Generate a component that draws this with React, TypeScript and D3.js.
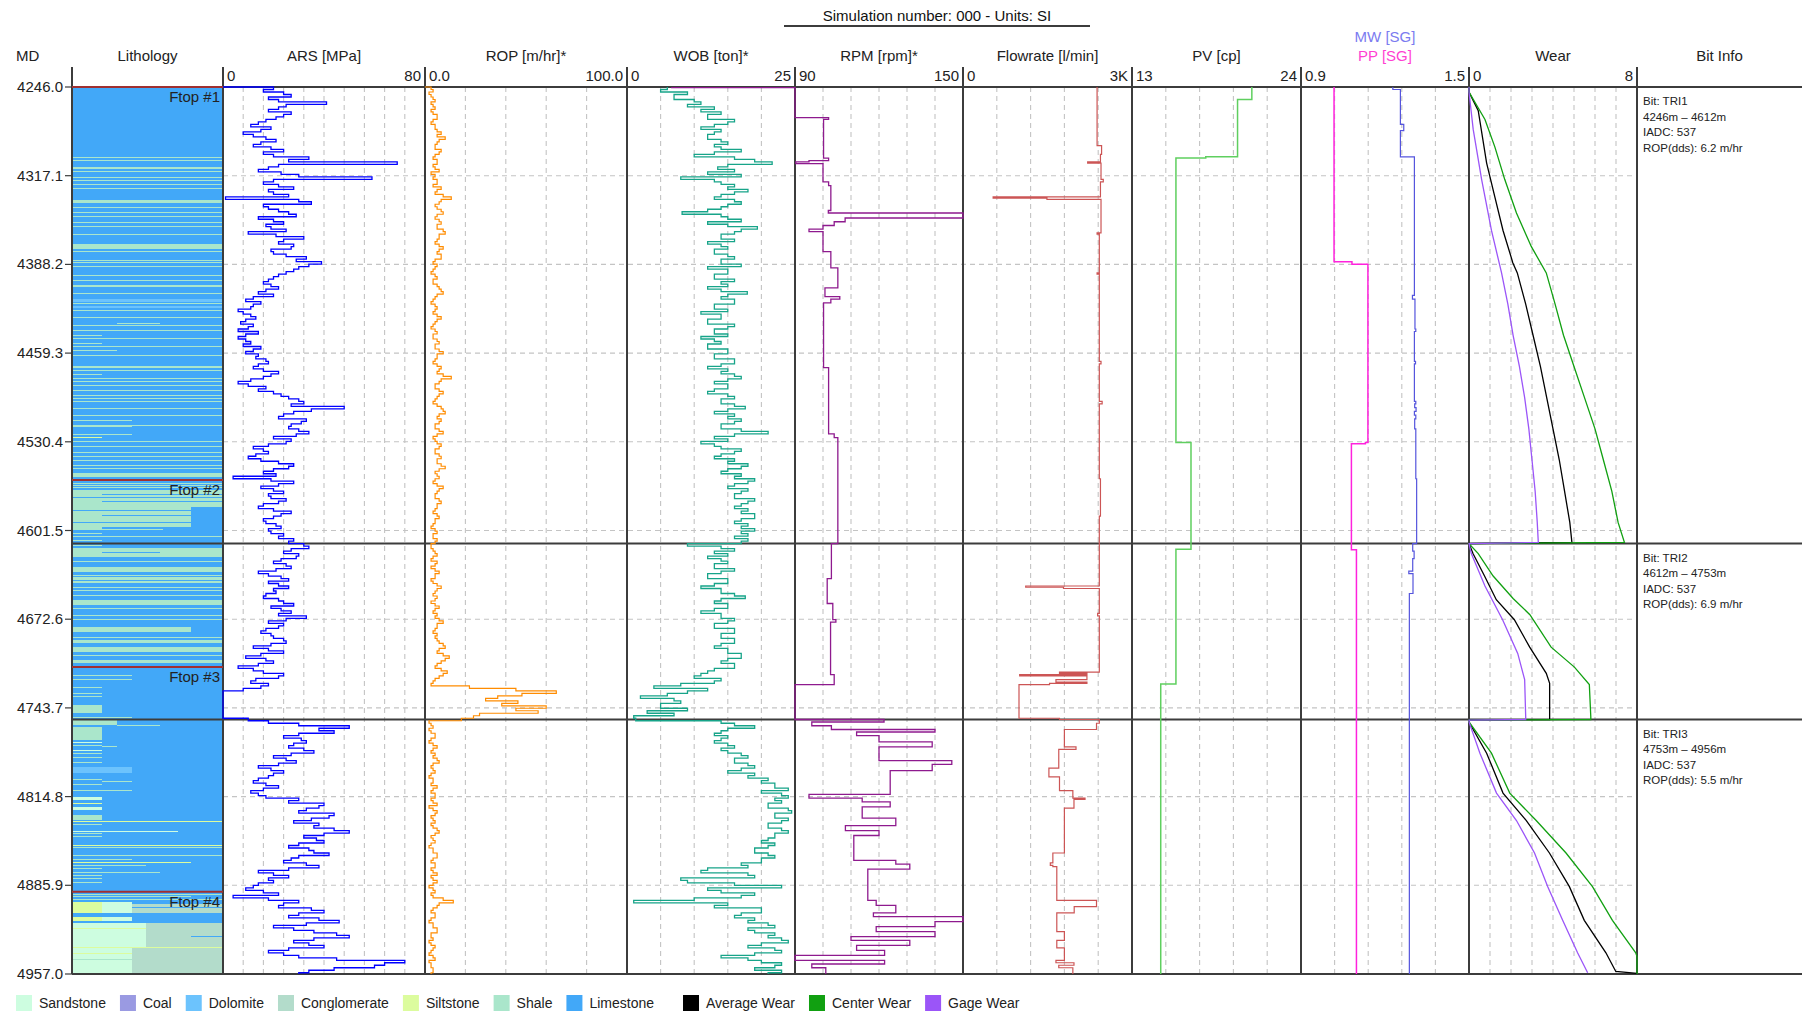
import React, { useEffect } from "react";
import * as d3 from "d3";

// ---------- depth axis ----------
const depthRange: [number, number] = [4246, 4957];
const depthTicks = [4246.0, 4317.1, 4388.2, 4459.3, 4530.4, 4601.5, 4672.6, 4743.7, 4814.8, 4885.9, 4957.0];

// ---------- track headers ----------
const trackTitles = ["Lithology", "ARS [MPa]", "ROP [m/hr]*", "WOB [ton]*", "RPM [rpm]*", "Flowrate [l/min]", "PV [cp]", "", "Wear", "Bit Info"];
const scaleMinLabels = ["", "0", "0.0", "0", "90", "0", "13", "0.9", "0", ""];
const scaleMaxLabels = ["", "80", "100.0", "25", "150", "3K", "24", "1.5", "8", ""];
const trackDomains: [number, number][] = [[0, 1], [0, 80], [0, 100], [0, 25], [90, 150], [0, 3000], [13, 24], [0.9, 1.5], [0, 8]];

// ---------- sampled logs: one value every 2 m starting at 4246 m (rows of 40 m) ----------
const sampleTop = 4246;
const sampleStep = 2;

const arsValues = [
  20, 16, 24, 27, 18, 22, 41, 25, 22, 18, 27, 24, 21, 17, 14, 11, 19, 15, 8, 12,
  17, 21, 15, 12, 19, 24, 16, 20, 34, 26, 69, 22, 18, 14, 23, 30, 59, 20, 16, 22,
  28, 18, 20, 26, 1, 30, 35, 16, 18, 22, 26, 29, 14, 20, 24, 17, 19, 25, 10, 21,
  32, 24, 22, 28, 27, 19, 20, 25, 33, 29, 39, 34, 30, 28, 25, 22, 20, 18, 16, 19,
  22, 17, 14, 20, 12, 9, 15, 12, 11, 6, 8, 11, 13, 9, 7, 12, 10, 6, 14, 9,
  6, 9, 11, 8, 15, 12, 9, 14, 13, 17, 18, 14, 12, 16, 22, 19, 16, 11, 6, 10,
  17, 14, 20, 23, 26, 30, 32, 27, 48, 35, 28, 24, 22, 33, 31, 27, 26, 30, 34, 29,
  20, 27, 25, 18, 12, 16, 18, 13, 10, 15, 22, 28, 26, 20, 16, 21, 4, 19, 28, 22,
  15, 20, 24, 18, 19, 25, 22, 16, 14, 20, 27, 23, 20, 16, 17, 21, 23, 18, 19, 24,
  22, 28, 26, 32, 34, 27, 24, 30, 29, 23, 20, 25, 27, 21, 14, 18, 23, 26, 18, 22,
  26, 20, 21, 17, 16, 22, 24, 28, 19, 23, 27, 22, 33, 25, 18, 24, 22, 17, 15, 19,
  20, 24, 25, 19, 12, 18, 24, 15, 9, 17, 20, 14, 6, 12, 16, 24, 22, 13, 11, 18,
  15, 8, 0, 0, 0, 0, 0, 0, 0, 0, 0, 0, 0, 10, 18, 30, 50, 38, 44, 30,
  24, 31, 33, 28, 26, 32, 36, 27, 20, 25, 29, 22, 14, 19, 24, 20, 18, 14, 12, 17,
  22, 16, 11, 14, 17, 30, 26, 40, 38, 33, 30, 44, 42, 35, 28, 38, 36, 44, 50, 40,
  32, 37, 40, 30, 26, 34, 36, 42, 30, 27, 24, 33, 38, 26, 14, 20, 26, 18, 20, 14,
  12, 9, 16, 22, 4, 18, 30, 24, 22, 35, 40, 30, 26, 38, 46, 33, 20, 28, 36, 45,
  50, 36, 28, 34, 40, 26, 18, 24, 30, 45, 72, 64, 60, 44, 34, 30,
];

const ropValues = [
  3, 4, 2, 3, 4, 5, 3, 4, 5, 3, 4, 6, 6, 4, 3, 5, 5, 6, 8, 6,
  10, 7, 6, 5, 5, 8, 7, 5, 4, 6, 6, 4, 5, 7, 3, 5, 4, 6, 6, 4,
  8, 6, 5, 9, 13, 8, 7, 5, 6, 8, 9, 6, 5, 7, 8, 6, 6, 9, 10, 7,
  7, 6, 5, 7, 9, 7, 6, 8, 8, 5, 4, 6, 5, 4, 3, 5, 6, 4, 4, 6,
  7, 8, 9, 6, 5, 4, 3, 5, 6, 5, 4, 6, 8, 6, 5, 4, 3, 5, 6, 4,
  4, 6, 7, 5, 5, 7, 9, 6, 6, 5, 4, 6, 8, 7, 6, 9, 13, 8, 7, 5,
  5, 7, 9, 7, 6, 5, 4, 6, 8, 9, 10, 7, 6, 8, 7, 5, 5, 7, 9, 6,
  4, 5, 6, 8, 7, 5, 5, 7, 8, 6, 6, 8, 10, 7, 5, 6, 7, 5, 4, 6,
  9, 7, 6, 5, 5, 7, 8, 6, 6, 5, 4, 6, 7, 5, 5, 4, 3, 5, 6, 4,
  4, 6, 5, 3, 3, 4, 5, 6, 4, 3, 6, 5, 3, 5, 7, 5, 5, 3, 4, 6,
  8, 6, 5, 4, 6, 5, 3, 5, 7, 5, 4, 6, 5, 7, 9, 6, 6, 5, 4, 6,
  5, 6, 7, 9, 10, 7, 6, 9, 12, 10, 8, 6, 5, 8, 11, 9, 7, 5, 4, 3,
  22, 45, 65, 48, 36, 30, 46, 38, 60, 45, 56, 27, 24, 18, 2, 3, 4, 2, 3, 5,
  5, 3, 2, 4, 6, 4, 3, 5, 4, 6, 7, 4, 3, 4, 5, 3, 2, 4, 4, 3,
  6, 4, 3, 5, 5, 3, 4, 6, 2, 4, 6, 5, 3, 4, 5, 3, 4, 6, 7, 5,
  3, 4, 5, 3, 2, 4, 4, 6, 6, 4, 3, 5, 5, 3, 4, 6, 3, 4, 6, 4,
  2, 4, 5, 3, 4, 9, 14, 7, 6, 4, 3, 5, 5, 3, 2, 4, 4, 6, 6, 3,
  3, 4, 2, 3, 5, 4, 3, 2, 4, 5, 2, 3, 3, 4, 4, 3,
];

const wobValues = [
  6, 5, 9, 7, 7, 10, 11, 9, 13, 11, 14, 12, 12, 16, 15, 13, 11, 14, 13, 12,
  12, 14, 15, 13, 14, 17, 13, 10, 16, 19, 21.6, 15, 13.5, 16, 12, 17, 8, 13, 14, 16,
  15, 18, 16, 14, 13, 16, 17, 15, 14, 12, 8.2, 14, 15, 17, 12, 15, 19.4, 17, 16, 14,
  14, 16, 12, 14, 15, 13, 13, 15, 16, 14, 14, 17, 12, 15, 15, 13, 13, 16, 14, 15,
  12, 14, 17.9, 15, 14, 16, 16, 13, 13, 15, 11, 14, 14, 12, 12, 16, 15, 13, 13, 15,
  11, 13, 14, 12, 12, 15, 15, 13, 13, 16, 16, 14, 12, 15, 14, 16, 17, 15, 13, 15,
  15, 13, 12, 15, 16, 14, 14, 16, 17.6, 15, 13, 16, 15, 17, 16, 14, 14, 17, 21, 16,
  13, 15, 11, 13, 14, 17, 16, 14, 13, 16, 15, 18, 17, 15, 14, 17, 16, 19, 18, 16,
  15, 18, 17, 16, 16, 19, 18, 17, 16, 18, 17, 19, 19, 17, 16, 18, 17, 19, 17, 18,
  16, 18, 17, 9, 14, 16, 13, 15, 12, 14, 15, 13, 13, 16, 14, 12, 12, 15, 15, 13,
  11, 14, 14, 16, 17.6, 14, 13, 15, 15, 13, 11, 14, 14, 16, 15, 13, 13, 16, 16, 14,
  14, 16, 16, 14, 13, 15, 15, 17, 17, 15, 14, 16, 16, 13, 12, 11, 10, 14, 13, 8,
  4, 12, 9, 6, 2, 7, 8, 5, 5, 9, 3, 7, 1, 1.3, 14, 16, 19, 15, 14, 13,
  15, 14, 13, 15, 16, 14, 15, 17, 18, 16, 16, 18, 19, 17, 15, 19, 18, 21, 20, 22,
  22, 24, 20, 23, 24, 22, 23, 21, 21, 24, 24.5, 22, 22, 24, 23, 21, 21, 23, 24, 22,
  22, 21, 20, 22, 21, 19, 19, 21, 22, 20, 20, 17, 18, 12, 11, 18, 19, 8, 9, 16,
  23, 12, 14, 19, 17, 10, 1, 15, 13, 20, 20, 17, 16, 19, 18, 21, 22, 18, 19, 22,
  21, 23, 24, 20, 18, 22, 23, 19, 14, 18, 20, 23, 22, 19, 23, 21,
];

// ---------- step logs: value holds from its depth down to the next one ----------
const rpmDepth = [
  4246, 4246.5, 4270.5, 4272, 4303, 4305, 4306, 4307.5, 4322, 4325, 4345, 4347, 4351, 4354, 4357, 4360, 4362,
  4378, 4391, 4407, 4414, 4416, 4419, 4471, 4524, 4527, 4612, 4640, 4660, 4673, 4675, 4717, 4725,
  4753, 4755, 4758, 4761, 4763, 4766, 4771, 4775, 4786, 4789, 4794, 4813, 4816, 4819, 4823, 4832,
  4838, 4842, 4846, 4866, 4869, 4873, 4898, 4902, 4908, 4911, 4915, 4919, 4923, 4927, 4930, 4934,
  4938, 4942, 4946, 4949, 4952,
];
const rpmValue = [
  46, 90, 102, 100.2, 102, 95, 90.3, 100, 102, 102.8, 101.9, 150, 107.9, 104, 100, 95, 100,
  102.8, 105.3, 100.7, 106, 102.8, 100.2, 102, 104, 105.3, 103, 101.5, 103.5, 104.6, 102.7, 104, 90,
  121.8, 96, 103, 140, 112, 120, 139, 120, 146, 139, 124, 95, 114, 124, 114, 126,
  108, 120, 111, 126, 131, 116, 119, 126, 118, 150, 140, 119, 140, 110, 131, 112,
  122, 90, 122, 96, 101,
];

const flowDepth = [
  4246, 4293, 4300, 4306, 4307, 4320, 4322, 4334, 4335, 4336, 4363, 4364, 4395, 4396, 4466, 4468, 4498, 4500, 4560, 4590,
  4646, 4647, 4648, 4668, 4670, 4715, 4716, 4717, 4718, 4721, 4723, 4724, 4725, 4752,
  4753, 4756, 4761, 4775, 4777, 4792, 4799, 4810, 4816, 4817, 4824, 4860, 4868, 4870, 4871, 4898,
  4903, 4908, 4923, 4930, 4936, 4946, 4948, 4950, 4952,
];
const flowValue = [
  2380, 2460, 2440, 2213, 2450, 2490, 2440, 535, 1490, 2450, 2380, 2420, 2380, 2420, 2450, 2420, 2470, 2420, 2440, 2420,
  1113, 1784, 2420, 2390, 2420, 1713, 2200, 1006, 2200, 1650, 2200, 1536, 994, 1713,
  2420, 2370, 1800, 2006, 1700, 1525, 1713, 1950, 2166, 1970, 1800, 1595, 1550, 1595, 1665, 2370,
  1974, 1665, 1800, 1665, 1800, 1650, 1970, 1700, 1950,
];

const pvDepth = [4246, 4256, 4302, 4303, 4531, 4616.6, 4724.6];
const pvValue = [20.8, 19.87, 17.8, 15.86, 16.84, 15.86, 14.87];

const mwDepth = [
  4246, 4248, 4276, 4281, 4302, 4413, 4416, 4440, 4442, 4466, 4468, 4498, 4500, 4503, 4506, 4509, 4512,
  4520, 4560, 4612, 4618, 4624, 4634, 4636, 4652,
];
const mwValue = [
  1.228, 1.255, 1.267, 1.255, 1.305, 1.298, 1.307, 1.31, 1.305, 1.309, 1.305, 1.31, 1.306, 1.311, 1.305, 1.31, 1.306,
  1.31, 1.313, 1.299, 1.304, 1.299, 1.285, 1.3, 1.287,
];

const ppDepth = [4246, 4386, 4388, 4531, 4532, 4617];
const ppValue = [1.018, 1.082, 1.139, 1.13, 1.08, 1.098];

// ---------- bit wear (depth, wear) ----------
const centerWear: [number, number][] = [
  [4246, 0], [4250, 0], [4272, 0.76], [4294, 1.23], [4320, 1.7], [4347, 2.26], [4374, 2.97], [4395, 3.68],
  [4420, 4.1], [4445, 4.5], [4470, 5.0], [4495, 5.5], [4520, 6.0], [4545, 6.4], [4570, 6.8], [4595, 7.1], [4611, 7.4],
  [4612, 0], [4620, 0.44], [4638, 1.15], [4656, 2.1], [4669, 2.9], [4695, 3.91], [4711, 5.02], [4725, 5.73], [4751, 5.8],
  [4753, 5.8], [4753.5, 0], [4755, 0], [4780, 1.07], [4812, 1.94], [4834, 3.2], [4860, 4.62], [4887, 5.88], [4914, 6.83],
  [4940, 7.94], [4943, 8], [4957, 8],
];
const averageWear: [number, number][] = [
  [4246, 0], [4250, 0], [4265, 0.44], [4307, 0.84], [4334, 1.23], [4361, 1.62], [4387, 2.09], [4395, 2.3],
  [4420, 2.7], [4445, 3.05], [4470, 3.4], [4495, 3.7], [4520, 4.0], [4545, 4.3], [4570, 4.55], [4595, 4.8], [4611, 4.9],
  [4612, 0], [4620, 0.19], [4638, 0.74], [4657, 1.3], [4673, 2.16], [4695, 2.89], [4716, 3.68], [4724, 3.84], [4751, 3.84],
  [4753, 3.84], [4753.5, 0], [4755, 0], [4780, 0.84], [4812, 1.62], [4834, 2.73], [4860, 3.83], [4887, 4.78], [4914, 5.49],
  [4940, 6.52], [4955, 6.99], [4956.5, 8],
];
const gageWear: [number, number][] = [
  [4246, 0], [4250, 0], [4280, 0.2], [4320, 0.6], [4361, 1.07], [4395, 1.55], [4420, 1.85], [4445, 2.1],
  [4470, 2.4], [4495, 2.65], [4520, 2.85], [4545, 3.0], [4570, 3.15], [4595, 3.25], [4611, 3.3],
  [4612, 0], [4620, 0.11], [4646, 0.76], [4673, 1.6], [4700, 2.32], [4721, 2.65], [4751, 2.7],
  [4753, 2.7], [4753.5, 0], [4755, 0], [4780, 0.52], [4812, 1.31], [4834, 2.26], [4860, 3.12], [4887, 3.75], [4914, 4.46],
  [4940, 5.17], [4956, 5.65],
];

// ---------- lithology ----------
const lithNames = ["Sandstone", "Coal", "Dolomite", "Conglomerate", "Siltstone", "Shale", "Limestone"];
const lithColors = ["#cdfde0", "#9a9ae2", "#6cc3fd", "#b3dccb", "#dcfc9e", "#aae6cb", "#42a8f8"];
const SS = 0, DO = 2, CG = 3, ST = 4, SH = 5, LS = 6;

// [top, base, lithology, left fraction, right fraction]
const lithBeds: [number, number, number, number, number][] = [
  [4246, 4957, LS, 0, 1],
  [4302.4, 4303.0, SH, 0, 1], [4304.5, 4305.1, SH, 0, 1], [4310.0, 4311.6, SH, 0, 1], [4313.0, 4313.6, SH, 0, 1],
  [4318.2, 4318.9, SH, 0, 1], [4320.4, 4321.0, SH, 0, 1], [4323.6, 4324.3, SH, 0, 1], [4327.0, 4327.7, SH, 0, 1],
  [4336.4, 4339.1, SH, 0, 1], [4342.0, 4342.6, SH, 0, 1], [4346.5, 4347.2, SH, 0, 1], [4349.7, 4350.4, SH, 0, 1],
  [4354.6, 4355.3, SH, 0, 1], [4357.8, 4358.5, SH, 0, 1], [4363.6, 4365.0, SH, 0, 1], [4371.8, 4375.8, SH, 0, 1],
  [4377.8, 4378.5, SH, 0, 1], [4384.5, 4385.2, SH, 0, 1], [4386.6, 4387.3, SH, 0, 1], [4389.8, 4390.5, SH, 0, 1],
  [4396.5, 4397.2, SH, 0, 1], [4400.5, 4401.2, SH, 0, 1], [4404.6, 4406.0, SH, 0, 1], [4411.2, 4411.9, SH, 0, 1],
  [4415.8, 4418.0, DO, 0, 1], [4419.5, 4420.1, SH, 0, 1], [4421.6, 4422.8, DO, 0, 1], [4424.6, 4425.3, SH, 0, 1],
  [4430.4, 4431.1, SH, 0, 1], [4435.0, 4435.8, SH, 0.3, 0.58], [4436.6, 4437.2, SH, 0, 1], [4440.6, 4441.3, SH, 0, 1],
  [4444.6, 4445.3, SH, 0, 0.2], [4447.3, 4448.0, SH, 0, 1], [4451.3, 4452.0, SH, 0, 0.2], [4453.9, 4454.6, SH, 0, 1],
  [4457.2, 4457.9, SH, 0, 0.3], [4460.6, 4461.3, SH, 0, 1], [4469.6, 4471.2, SH, 0, 1], [4472.7, 4473.4, SH, 0, 1],
  [4475.9, 4476.6, SH, 0, 0.2], [4479.3, 4480.0, SH, 0, 1], [4482.0, 4482.7, SH, 0, 1], [4484.7, 4485.4, SH, 0, 1],
  [4488.7, 4489.4, SH, 0, 1], [4492.7, 4493.4, SH, 0, 1], [4495.4, 4496.1, SH, 0, 1], [4498.0, 4498.7, SH, 0, 1],
  [4503.4, 4504.1, SH, 0, 1], [4508.7, 4509.4, SH, 0, 1], [4513.3, 4514.0, SH, 0, 0.4], [4516.7, 4517.4, SH, 0, 1],
  [4518.1, 4518.8, SH, 0, 0.4], [4524.0, 4524.7, SH, 0, 0.4], [4526.4, 4527.4, ST, 0, 0.2], [4530.1, 4530.8, SH, 0, 1],
  [4534.1, 4534.8, SH, 0, 1], [4538.9, 4539.6, SH, 0, 1], [4542.1, 4542.8, SH, 0, 1], [4545.3, 4546.0, SH, 0, 1],
  [4548.8, 4549.4, SH, 0, 1], [4551.5, 4552.2, SH, 0, 1], [4555.7, 4558.4, SH, 0, 1], [4560.0, 4560.6, SH, 0, 1],
  [4563.2, 4563.8, SH, 0, 1], [4565.0, 4565.6, SH, 0, 1], [4566.7, 4567.3, SH, 0, 1], [4569.0, 4582.4, SH, 0, 1],
  [4572.3, 4573.0, LS, 0.2, 1], [4574.4, 4575.0, LS, 0, 1], [4578.0, 4578.6, LS, 0.2, 1], [4582.4, 4599.0, SH, 0, 0.79],
  [4585.0, 4585.6, LS, 0, 0.79], [4589.0, 4589.7, LS, 0.2, 0.79], [4594.4, 4595.0, LS, 0, 0.79], [4599.0, 4601.0, SH, 0, 0.2],
  [4600.2, 4600.8, SH, 0.2, 0.6], [4603.8, 4604.5, SH, 0, 0.2], [4606.0, 4606.6, SH, 0, 1], [4609.0, 4609.6, SH, 0, 0.2],
  [4613.0, 4613.6, SH, 0, 0.2], [4615.8, 4622.5, SH, 0, 1], [4619.0, 4619.6, LS, 0.2, 0.58], [4626.0, 4626.6, SH, 0, 1],
  [4630.5, 4634.5, SH, 0, 1], [4636.9, 4637.5, SH, 0, 1], [4638.5, 4643.9, SH, 0, 1], [4641.0, 4641.6, LS, 0, 1],
  [4646.5, 4647.1, SH, 0, 1], [4649.2, 4649.8, SH, 0, 1], [4653.2, 4653.8, SH, 0, 1], [4657.2, 4661.2, SH, 0, 1],
  [4663.8, 4664.4, SH, 0, 1], [4669.0, 4669.6, SH, 0, 1], [4672.5, 4673.1, SH, 0, 1], [4678.6, 4682.6, SH, 0, 0.79],
  [4686.6, 4687.2, SH, 0, 1], [4689.3, 4692.0, SH, 0, 1], [4694.6, 4698.6, SH, 0, 1], [4701.3, 4701.9, SH, 0, 1],
  [4705.3, 4707.5, SH, 0, 1],
  [4717.0, 4717.6, SH, 0, 0.4], [4720.5, 4721.1, SH, 0, 0.4], [4727.0, 4727.6, SH, 0, 0.2], [4731.7, 4732.3, SH, 0, 0.2],
  [4734.4, 4735.0, SH, 0, 0.2], [4741.4, 4748.1, SH, 0, 0.2], [4751.0, 4751.6, SH, 0, 0.4],
  [4753.4, 4757.4, SH, 0, 0.3], [4757.2, 4757.8, SH, 0.3, 0.58], [4758.8, 4769.5, SH, 0, 0.2], [4770.8, 4771.4, SS, 0, 0.2],
  [4773.5, 4774.1, SH, 0, 0.2], [4774.6, 4775.2, SH, 0.2, 0.3], [4777.5, 4778.1, SS, 0, 0.2], [4780.1, 4780.7, SH, 0, 0.2],
  [4782.8, 4783.4, SH, 0, 0.2], [4786.8, 4787.4, SH, 0, 0.2], [4790.8, 4795.6, DO, 0, 0.4], [4800.4, 4801.2, SH, 0, 0.2],
  [4802.5, 4803.1, SH, 0.2, 0.4], [4804.5, 4805.1, SH, 0, 0.2], [4809.3, 4809.9, SH, 0, 0.4], [4815.0, 4817.6, SS, 0, 0.2],
  [4820.2, 4820.8, ST, 0, 0.2], [4822.9, 4825.6, SS, 0, 0.2], [4829.6, 4833.6, SH, 0, 0.2], [4834.7, 4835.3, ST, 0, 1],
  [4836.8, 4837.4, SH, 0, 0.2], [4842.2, 4842.8, SS, 0, 0.7], [4844.2, 4844.8, SH, 0, 0.2], [4846.4, 4847.0, SH, 0, 0.2],
  [4853.4, 4854.0, ST, 0, 1], [4855.6, 4856.2, SH, 0, 1], [4861.5, 4862.1, SH, 0, 1], [4864.9, 4865.5, SH, 0, 0.4],
  [4867.6, 4868.2, ST, 0, 0.79], [4869.6, 4870.2, SH, 0, 0.49], [4872.3, 4872.9, SH, 0, 0.2], [4874.9, 4875.5, SH, 0, 0.58],
  [4877.9, 4878.5, SH, 0, 0.2], [4880.2, 4880.8, SH, 0, 0.2], [4882.9, 4883.5, SH, 0, 0.2],
  [4892.8, 4893.4, SH, 0, 1], [4894.7, 4895.3, SH, 0, 0.79], [4896.9, 4897.5, SH, 0, 1], [4899.0, 4908.4, ST, 0, 0.2],
  [4899.0, 4908.4, SS, 0.2, 0.4], [4901.0, 4908.4, CG, 0.4, 1], [4903.0, 4903.6, LS, 0.4, 1], [4911.0, 4914.5, ST, 0, 0.2],
  [4911.0, 4914.5, SS, 0.2, 0.4], [4916.4, 4935.1, SS, 0, 0.49], [4916.4, 4935.1, CG, 0.49, 1], [4926.4, 4927.0, LS, 0.79, 1],
  [4920.0, 4920.6, ST, 0, 0.49], [4935.1, 4936.3, ST, 0, 1], [4936.3, 4957, SS, 0, 0.4], [4936.3, 4957, CG, 0.4, 1],
  [4940.0, 4940.6, ST, 0, 0.4], [4945.0, 4945.6, SH, 0, 0.4],
];

const formationTops = [4246, 4561, 4711, 4891];
const formationNames = ["Ftop #1", "Ftop #2", "Ftop #3", "Ftop #4"];

// ---------- bit runs ----------
const bitNames = ["TRI1", "TRI2", "TRI3"];
const bitTop = [4246, 4612, 4753];
const bitBase = [4612, 4753, 4956];
const bitIadc = [537, 537, 537];
const bitRop = [6.2, 6.9, 5.5];

const wearLegend = ["Average Wear", "Center Wear", "Gage Wear"];
const wearColors = ["#000000", "#11a011", "#9b55f8"];

// ---------- layout ----------
const W = 1802;
const H = 1014;
const EDGES = [72, 223, 425, 627, 795, 963, 1132, 1301, 1469, 1637, 1802];
const GRID_DIVS = [0, 10, 5, 5, 6, 5, 5, 5, 8, 0];
const TOP = 87;
const BOTTOM = 974;
const FONT = '"Liberation Sans", Arial, Helvetica, sans-serif';
const FRAME = "#3c3c3c";
const GRID = "#c4c4c4";

function measure(text: string, size: number): number {
  const ctx = document.createElement("canvas").getContext("2d");
  if (!ctx) return text.length * size * 0.5;
  ctx.font = `${size}px ${FONT}`;
  return ctx.measureText(text).width;
}

const y = d3.scaleLinear().domain(depthRange).range([TOP, BOTTOM]);
const xScales = trackDomains.map((dom, i) => d3.scaleLinear().domain(dom).range([EDGES[i], EDGES[i + 1]]));

function stepPath(depths: number[], values: number[], x: d3.ScaleLinear<number, number>, origin?: number): string {
  const pts: [number, number][] = [];
  if (origin !== undefined) pts.push([x(origin), y(depths[0])]);
  depths.forEach((d, i) => pts.push([x(values[i]), y(d)]));
  pts.push([x(values[values.length - 1]), y(depthRange[1])]);
  return d3.line().curve(d3.curveStepBefore)(pts) || "";
}

function sampledDepths(values: number[]): number[] {
  return values.map((_, i) => sampleTop + i * sampleStep);
}

function wearPath(points: [number, number][]): string {
  const x = xScales[8];
  return d3.line<[number, number]>().x((p) => x(p[1])).y((p) => y(p[0]))(points) || "";
}

export default function App() {
  useEffect(() => {
    document.body.style.margin = "0";
    document.body.style.overflow = "hidden";
  }, []);

  const lithX = xScales[0];
  const [lx0, lx1] = lithX.range();

  // legend layout
  const legendItems: { label: string; color: string; x: number }[] = [];
  let lx = 16;
  lithNames.forEach((n, i) => {
    legendItems.push({ label: n, color: lithColors[i], x: lx });
    lx += 23 + measure(n, 14) + 14;
  });
  lx += 15;
  wearLegend.forEach((n, i) => {
    legendItems.push({ label: n, color: wearColors[i], x: lx });
    lx += 23 + measure(n, 14) + 14;
  });

  const titleCenter = (EDGES[0] + EDGES[EDGES.length - 1]) / 2;
  const innerGridDepths = depthTicks.slice(1, -1);

  return (
    <svg width={W} height={H} style={{ position: "absolute", left: 0, top: 0, background: "#fff" }} fontFamily={FONT}>
      {/* title */}
      <text x={titleCenter} y={21} fontSize={15} textAnchor="middle" fill="#111">Simulation number: 000 - Units: SI</text>
      <line x1={titleCenter - 153} x2={titleCenter + 153} y1={26} y2={26} stroke={FRAME} strokeWidth={2} />

      {/* lithology */}
      <g shapeRendering="crispEdges">
        {lithBeds.map((b, i) => {
          const y0 = y(b[0]);
          const h = Math.max(1, y(b[1]) - y0);
          const x0 = lx0 + b[3] * (lx1 - lx0);
          const x1 = lx0 + b[4] * (lx1 - lx0);
          return <rect key={i} x={x0} y={y0} width={x1 - x0} height={h} fill={lithColors[b[2]]} />;
        })}
      </g>

      {/* grids */}
      <g stroke={GRID} strokeWidth={1.1} strokeDasharray="5,4" fill="none">
        {innerGridDepths.map((d) => (
          <line key={"h" + d} x1={EDGES[1]} x2={EDGES[9]} y1={y(d)} y2={y(d)} />
        ))}
        {GRID_DIVS.map((n, ti) =>
          d3.range(1, n).map((k) => {
            const gx = EDGES[ti] + ((EDGES[ti + 1] - EDGES[ti]) * k) / n;
            return <line key={`v${ti}-${k}`} x1={gx} x2={gx} y1={TOP} y2={BOTTOM} />;
          })
        )}
      </g>

      {/* frame */}
      <g stroke={FRAME} strokeWidth={2}>
        {EDGES.slice(0, 10).map((ex) => (
          <line key={"e" + ex} x1={ex} x2={ex} y1={67} y2={BOTTOM} />
        ))}
        <line x1={EDGES[0]} x2={W} y1={TOP} y2={TOP} />
        <line x1={EDGES[0]} x2={W} y1={BOTTOM} y2={BOTTOM} />
        {bitTop.slice(1).map((d) => (
          <line key={"b" + d} x1={EDGES[0]} x2={W} y1={y(d)} y2={y(d)} />
        ))}
      </g>

      {/* depth axis */}
      <g fontSize={15} fill="#222">
        {depthTicks.map((d) => (
          <g key={"t" + d}>
            <line x1={65} x2={72} y1={y(d)} y2={y(d)} stroke={FRAME} strokeWidth={1.2} />
            <text x={63} y={y(d) + 5} textAnchor="end">{d.toFixed(1)}</text>
          </g>
        ))}
      </g>

      {/* curves */}
      <g fill="none" strokeLinejoin="miter">
        <path d={stepPath(sampledDepths(arsValues), arsValues, xScales[1], 0)} stroke="#0000ff" strokeWidth={1.3} />
        <path d={stepPath(sampledDepths(ropValues), ropValues, xScales[2], 0)} stroke="#ff8c00" strokeWidth={1.2} />
        <path d={stepPath(sampledDepths(wobValues), wobValues, xScales[3])} stroke="#17a489" strokeWidth={1.3} />
        <path d={stepPath(rpmDepth, rpmValue, xScales[4])} stroke="#8e1a8e" strokeWidth={1.3} />
        <path d={stepPath(flowDepth, flowValue, xScales[5])} stroke="#cc5555" strokeWidth={1.2} />
        <path d={stepPath(pvDepth, pvValue, xScales[6])} stroke="#5fcf5f" strokeWidth={1.5} />
        <path d={stepPath(ppDepth, ppValue, xScales[7])} stroke="#ff22dd" strokeWidth={1.5} />
        <path d={stepPath(mwDepth, mwValue, xScales[7])} stroke="#5555dd" strokeWidth={1.2} />
        <path d={wearPath(averageWear)} stroke={wearColors[0]} strokeWidth={1.3} />
        <path d={wearPath(centerWear)} stroke={wearColors[1]} strokeWidth={1.3} />
        <path d={wearPath(gageWear)} stroke={wearColors[2]} strokeWidth={1.3} />
      </g>

      {/* formation tops */}
      {formationTops.map((d, i) => (
        <g key={"f" + i}>
          <line x1={EDGES[0]} x2={EDGES[1]} y1={y(d)} y2={y(d)} stroke="#a03030" strokeWidth={2} />
          <text x={EDGES[1] - 3} y={y(d) + 15} fontSize={15} textAnchor="end" fill="#222">{formationNames[i]}</text>
        </g>
      ))}

      {/* headers */}
      <text x={16} y={61} fontSize={15} fill="#222">MD</text>
      <g fontSize={15} fill="#222">
        {trackTitles.map((t, i) =>
          t ? (
            <text key={"h" + i} x={(EDGES[i] + EDGES[i + 1]) / 2} y={61} textAnchor="middle">{t}</text>
          ) : null
        )}
        {scaleMinLabels.map((s, i) =>
          s ? <text key={"mn" + i} x={EDGES[i] + 4} y={81}>{s}</text> : null
        )}
        {scaleMaxLabels.map((s, i) =>
          s ? <text key={"mx" + i} x={EDGES[i + 1] - 4} y={81} textAnchor="end">{s}</text> : null
        )}
      </g>
      <text x={(EDGES[7] + EDGES[8]) / 2} y={42} fontSize={15} textAnchor="middle" fill="#7b7bf0">MW [SG]</text>
      <text x={(EDGES[7] + EDGES[8]) / 2} y={61} fontSize={15} textAnchor="middle" fill="#ff3fd2">PP [SG]</text>

      {/* bit info */}
      <g fontSize={11.5} fill="#222">
        {bitNames.map((b, i) => {
          const ty = y(bitTop[i]) + 18;
          const lines = [
            `Bit: ${b}`,
            `${bitTop[i]}m \u2013 ${bitBase[i]}m`,
            `IADC: ${bitIadc[i]}`,
            `ROP(dds): ${bitRop[i].toFixed(1)} m/hr`,
          ];
          return lines.map((l, k) => (
            <text key={`bi${i}-${k}`} x={EDGES[9] + 6} y={ty + k * 15.5}>{l}</text>
          ));
        })}
      </g>

      {/* legend */}
      <g fontSize={14} fill="#222">
        {legendItems.map((it) => (
          <g key={it.label}>
            <rect x={it.x} y={995} width={16} height={16} fill={it.color} />
            <text x={it.x + 23} y={1008}>{it.label}</text>
          </g>
        ))}
      </g>
    </svg>
  );
}
